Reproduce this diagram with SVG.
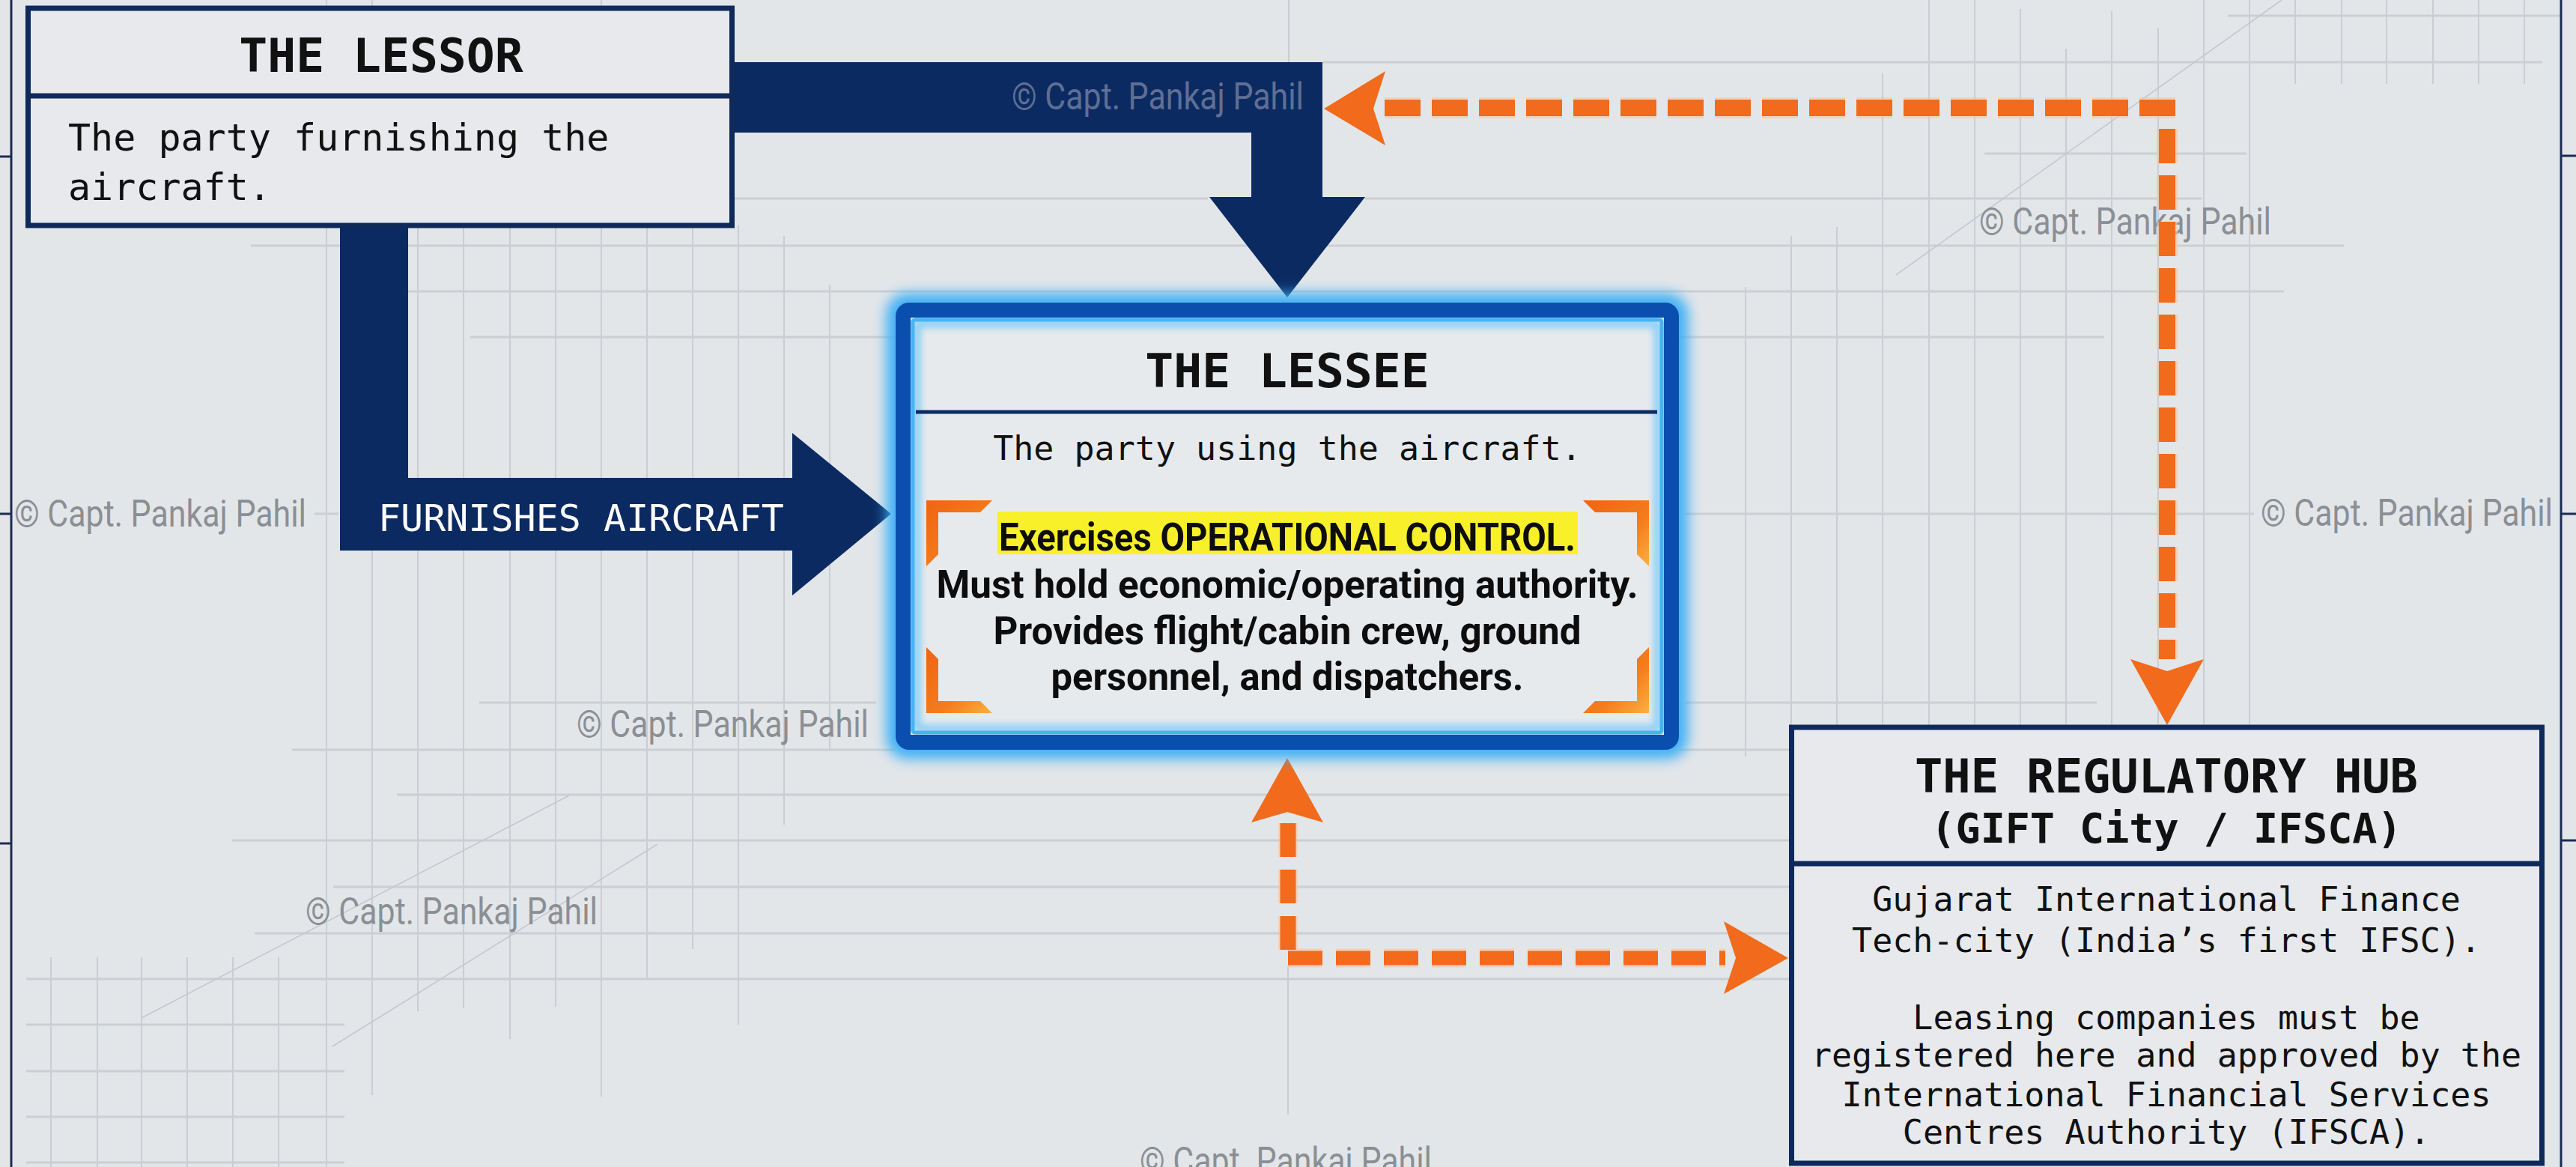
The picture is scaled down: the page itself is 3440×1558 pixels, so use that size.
<svg xmlns="http://www.w3.org/2000/svg" width="3440" height="1558" viewBox="0 0 3440 1558">
  <defs>
    <style>
      .mono { font-family: "DejaVu Sans Mono", "Liberation Mono", monospace; fill: #111111; }
      .title { font-size: 63px; font-weight: 700; text-anchor: middle; }
      .body { font-size: 45px; text-anchor: middle; }
      .sans { font-family: Roboto, "Liberation Sans", sans-serif; font-weight: 700; font-size: 52px; fill: #0d0d0d; text-anchor: middle; }
      .wm { font-family: Roboto, "Liberation Sans", sans-serif; font-size: 50px; fill: #8b8f95; }
      .gv { stroke: #c4c8cd; stroke-width: 1.6; fill: none; }
      .gh { stroke: #cbcfd3; stroke-width: 3; fill: none; }
      .navy { fill: #0c2a62; }
      .or { stroke: #f26a1b; fill: none; }
      .orh { stroke: #f9c49c; fill: none; opacity: 0.6; }
      .orf { fill: #f26a1b; }
      .box { fill: #e7e9ec; stroke: #0f2a5a; stroke-width: 7; }
      .div { stroke: #0f2a5a; stroke-width: 7; }
    </style>
    <filter id="blur8" x="-10%" y="-10%" width="120%" height="120%">
      <feGaussianBlur stdDeviation="9"/>
    </filter>
    <filter id="blur4" x="-10%" y="-10%" width="120%" height="120%">
      <feGaussianBlur stdDeviation="5"/>
    </filter>
    <linearGradient id="brk" x1="0" y1="0" x2="1" y2="1">
      <stop offset="0" stop-color="#ef6414"/>
      <stop offset="0.6" stop-color="#f47c1c"/>
      <stop offset="1" stop-color="#fbb040"/>
    </linearGradient>
  </defs>

  <!-- background -->
  <rect x="0" y="0" width="3440" height="1558" fill="#e3e6e9"/>

  <g id="grid">
    <!-- vertical lines, left region -->
    <line class="gv" x1="436" y1="0" x2="436" y2="11"/>
    <line class="gv" x1="497" y1="0" x2="497" y2="11"/>
    <line class="gv" x1="803" y1="0" x2="803" y2="11"/>
    <line class="gv" x1="436" y1="301" x2="436" y2="1558"/>
    <line class="gv" x1="497" y1="301" x2="497" y2="1462"/>
    <line class="gv" x1="558" y1="301" x2="558" y2="1350"/>
    <line class="gv" x1="619" y1="301" x2="619" y2="1346"/>
    <line class="gv" x1="681" y1="301" x2="681" y2="1387"/>
    <line class="gv" x1="742" y1="301" x2="742" y2="1344"/>
    <line class="gv" x1="803" y1="301" x2="803" y2="1464"/>
    <line class="gv" x1="864" y1="301" x2="864" y2="1305"/>
    <line class="gv" x1="925" y1="301" x2="925" y2="1267"/>
    <line class="gv" x1="986" y1="301" x2="986" y2="1368"/>
    <line class="gv" x1="1047" y1="315" x2="1047" y2="1101"/>
    <line class="gv" x1="1108" y1="380" x2="1108" y2="1001"/>
    <line class="gv" x1="1721" y1="0" x2="1721" y2="83"/>
    <line class="gv" x1="1720" y1="1290" x2="1720" y2="1488"/>
    <!-- lower-left -->
    <line class="gv" x1="68" y1="1278" x2="68" y2="1558"/>
    <line class="gv" x1="130" y1="1278" x2="130" y2="1558"/>
    <line class="gv" x1="189" y1="1278" x2="189" y2="1558"/>
    <line class="gv" x1="250" y1="1278" x2="250" y2="1558"/>
    <line class="gv" x1="311" y1="1278" x2="311" y2="1558"/>
    <line class="gv" x1="372" y1="1278" x2="372" y2="1558"/>
    <!-- upper-right -->
    <line class="gv" x1="2331" y1="383" x2="2331" y2="1010"/>
    <line class="gv" x1="2392" y1="315" x2="2392" y2="970"/>
    <line class="gv" x1="2453" y1="303" x2="2453" y2="970"/>
    <line class="gv" x1="2514" y1="98" x2="2514" y2="970"/>
    <line class="gv" x1="2576" y1="0" x2="2576" y2="970"/>
    <line class="gv" x1="2637" y1="0" x2="2637" y2="970"/>
    <line class="gv" x1="2698" y1="12" x2="2698" y2="970"/>
    <line class="gv" x1="2759" y1="65" x2="2759" y2="970"/>
    <line class="gv" x1="2820" y1="15" x2="2820" y2="970"/>
    <line class="gv" x1="2882" y1="37" x2="2882" y2="970"/>
    <line class="gv" x1="2943" y1="0" x2="2943" y2="970"/>
    <line class="gv" x1="3004" y1="0" x2="3004" y2="970"/>
    <line class="gv" x1="3065" y1="0" x2="3065" y2="112"/>
    <line class="gv" x1="3127" y1="0" x2="3127" y2="112"/>
    <line class="gv" x1="3187" y1="0" x2="3187" y2="112"/>
    <line class="gv" x1="3249" y1="0" x2="3249" y2="112"/>
    <line class="gv" x1="3310" y1="0" x2="3310" y2="112"/>
    <line class="gv" x1="3371" y1="0" x2="3371" y2="112"/>
    <!-- horizontal lines -->
    <line class="gh" x1="2975" y1="21" x2="3420" y2="21"/>
    <line class="gh" x1="1766" y1="83" x2="3395" y2="83"/>
    <line class="gh" x1="2650" y1="205" x2="3000" y2="205"/>
    <line class="gh" x1="340" y1="265" x2="1613" y2="265"/>
    <line class="gh" x1="1823" y1="265" x2="2940" y2="265"/>
    <line class="gh" x1="335" y1="328" x2="3130" y2="328"/>
    <line class="gh" x1="545" y1="389" x2="3050" y2="389"/>
    <line class="gh" x1="628" y1="450" x2="2810" y2="450"/>
    <line class="gh" x1="420" y1="686" x2="452" y2="686"/>
    <line class="gh" x1="2250" y1="686" x2="3010" y2="686"/>
    <line class="gh" x1="640" y1="938" x2="1170" y2="938"/>
    <line class="gh" x1="2250" y1="938" x2="2800" y2="938"/>
    <line class="gh" x1="390" y1="1001" x2="1195" y2="1001"/>
    <line class="gh" x1="2243" y1="1001" x2="2390" y2="1001"/>
    <line class="gh" x1="530" y1="1061" x2="2390" y2="1061"/>
    <line class="gh" x1="310" y1="1122" x2="2390" y2="1122"/>
    <line class="gh" x1="445" y1="1184" x2="2390" y2="1184"/>
    <line class="gh" x1="340" y1="1246" x2="2390" y2="1246"/>
    <line class="gh" x1="35" y1="1307" x2="2390" y2="1307"/>
    <line class="gh" x1="35" y1="1368" x2="460" y2="1368"/>
    <line class="gh" x1="35" y1="1430" x2="460" y2="1430"/>
    <line class="gh" x1="35" y1="1491" x2="460" y2="1491"/>
    <line class="gh" x1="35" y1="1552" x2="460" y2="1552"/>
    <!-- diagonals -->
    <line class="gv" x1="3047" y1="0" x2="2532" y2="367"/>
    <line class="gv" x1="760" y1="1062" x2="189" y2="1359"/>
    <line class="gv" x1="878" y1="1127" x2="444" y2="1397"/>
  </g>

  <g id="frame" stroke="#1b2d55" stroke-width="3" fill="none">
    <line x1="15" y1="0" x2="15" y2="1558"/>
    <line x1="0" y1="209" x2="15" y2="209"/>
    <line x1="0" y1="686" x2="15" y2="686"/>
    <line x1="0" y1="1126" x2="15" y2="1126"/>
    <line x1="3420" y1="0" x2="3420" y2="1558"/>
    <line x1="3420" y1="208" x2="3440" y2="208"/>
    <line x1="3420" y1="686" x2="3440" y2="686"/>
    <line x1="3420" y1="1122" x2="3440" y2="1122"/>
  </g>

  <g id="connectors">
    <!-- Lessor to Lessee (top) -->
    <polygon class="navy" points="975,83 1766,83 1766,263 1823,263 1719,397 1615,263 1671,263 1671,177 975,177"/>
    <!-- Lessor furnishes aircraft (left) -->
    <polygon class="navy" points="454,296 545,296 545,638 1058,638 1058,578 1190,686 1058,795 1058,735 454,735"/>
    <text class="mono" x="505" y="709" font-size="50" fill="#ffffff" style="fill:#ffffff">FURNISHES AIRCRAFT</text>
  </g>

  <g id="watermarks">
    <text class="wm" x="1351" y="146" textLength="390" lengthAdjust="spacingAndGlyphs" style="fill:#5f6f93">© Capt. Pankaj Pahil</text>
    <text class="wm" x="2643" y="313" textLength="390" lengthAdjust="spacingAndGlyphs">© Capt. Pankaj Pahil</text>
    <text class="wm" x="19" y="703" textLength="390" lengthAdjust="spacingAndGlyphs">© Capt. Pankaj Pahil</text>
    <text class="wm" x="3019" y="702" textLength="390" lengthAdjust="spacingAndGlyphs">© Capt. Pankaj Pahil</text>
    <text class="wm" x="770" y="984" textLength="390" lengthAdjust="spacingAndGlyphs">© Capt. Pankaj Pahil</text>
    <text class="wm" x="408" y="1234" textLength="390" lengthAdjust="spacingAndGlyphs">© Capt. Pankaj Pahil</text>
    <text class="wm" x="1522" y="1567" textLength="390" lengthAdjust="spacingAndGlyphs">© Capt. Pankaj Pahil</text>
  </g>

  <g id="connectors-orange">
    <!-- Regulatory hub to Lessor/top and down to hub -->
    <line class="orh" x1="2905" y1="144" x2="1848" y2="144" stroke-width="28" stroke-dasharray="48 15"/>
    <line class="orh" x1="2894" y1="172" x2="2894" y2="880" stroke-width="28" stroke-dasharray="46 16"/>
    <line class="or" x1="2905" y1="144" x2="1848" y2="144" stroke-width="22" stroke-dasharray="48 15"/>
    <line class="or" x1="2894" y1="172" x2="2894" y2="880" stroke-width="22" stroke-dasharray="46 16"/>
    <polygon class="orf" points="1768,145 1850,95 1834,145 1850,194"/>
    <polygon class="orf" points="2845,880 2894,896 2943,880 2894,968"/>
    <!-- Lessee <-> Regulatory hub (bottom) -->
    <line class="orh" x1="1720" y1="1268" x2="1720" y2="1097" stroke-width="26" stroke-dasharray="45 17"/>
    <line class="orh" x1="1720" y1="1279" x2="2304" y2="1279" stroke-width="25" stroke-dasharray="46 18"/>
    <line class="or" x1="1720" y1="1268" x2="1720" y2="1097" stroke-width="21" stroke-dasharray="45 17"/>
    <line class="or" x1="1720" y1="1279" x2="2304" y2="1279" stroke-width="19" stroke-dasharray="46 18"/>
    <polygon class="orf" points="1719,1012 1767,1098 1719,1084 1671,1098"/>
    <polygon class="orf" points="2302,1230 2388,1279 2302,1327 2318,1279"/>
  </g>

  <g id="lessor">
    <rect class="box" x="37.5" y="11" width="940" height="290"/>
    <line class="div" x1="37.5" y1="128" x2="977.5" y2="128"/>
    <text class="mono title" x="509" y="96">THE LESSOR</text>
    <text class="mono" x="91" y="201" font-size="50">The party furnishing the</text>
    <text class="mono" x="91" y="267" font-size="50">aircraft.</text>
  </g>

  <g id="lessee">
    <rect x="1197" y="405" width="1044" height="595" rx="14" fill="none" stroke="#39aef5" stroke-width="26" filter="url(#blur8)"/>
    <rect x="1206" y="414" width="1026" height="577" rx="8" fill="#e7eaed"/>
    <rect x="1224" y="432" width="990" height="541" rx="4" fill="none" stroke="#8fd0f7" stroke-width="12" filter="url(#blur4)"/>
    <rect x="1206" y="414" width="1026" height="577" rx="8" fill="none" stroke="#0b4fae" stroke-width="20"/>
    <rect x="1219" y="427" width="1000" height="551" rx="3" fill="none" stroke="#45b4f3" stroke-width="5"/>
    <text class="mono title" x="1719" y="517">THE LESSEE</text>
    <line x1="1223" y1="550" x2="2213" y2="550" stroke="#0c2b63" stroke-width="5"/>
    <text class="mono body" x="1719" y="614">The party using the aircraft.</text>
    <polygon fill="url(#brk)" points="1237,668 1325,668 1309,684 1253,684 1253,740 1237,756"/>
    <polygon fill="url(#brk)" points="2202,668 2114,668 2130,684 2186,684 2186,740 2202,756"/>
    <polygon fill="url(#brk)" points="1237,952 1325,952 1309,936 1253,936 1253,880 1237,864"/>
    <polygon fill="url(#brk)" points="2202,952 2114,952 2130,936 2186,936 2186,880 2202,864"/>
    <rect x="1332" y="683" width="775" height="57" fill="#f8f02a"/>
    <text class="sans" x="1719" y="735" textLength="770" lengthAdjust="spacingAndGlyphs">Exercises OPERATIONAL CONTROL.</text>
    <text class="sans" x="1719" y="798" textLength="937" lengthAdjust="spacingAndGlyphs">Must hold economic/operating authority.</text>
    <text class="sans" x="1719" y="860" textLength="785" lengthAdjust="spacingAndGlyphs">Provides flight/cabin crew, ground</text>
    <text class="sans" x="1719" y="921" textLength="631" lengthAdjust="spacingAndGlyphs">personnel, and dispatchers.</text>
  </g>

  <g id="regulatory-hub">
    <rect class="box" x="2392.5" y="971" width="1002" height="582"/>
    <line class="div" x1="2392.5" y1="1153" x2="3394.5" y2="1153"/>
    <text class="mono title" x="2893" y="1058" font-size="62" style="font-size:62px">THE REGULATORY HUB</text>
    <text class="mono title" x="2893" y="1125" style="font-size:55px">(GIFT City / IFSCA)</text>
    <text class="mono body" x="2893" y="1216">Gujarat International Finance</text>
    <text class="mono body" x="2893" y="1271">Tech-city (India’s first IFSC).</text>
    <text class="mono body" x="2893" y="1374">Leasing companies must be</text>
    <text class="mono body" x="2893" y="1424">registered here and approved by the</text>
    <text class="mono body" x="2893" y="1477">International Financial Services</text>
    <text class="mono body" x="2893" y="1527">Centres Authority (IFSCA).</text>
  </g>
</svg>
